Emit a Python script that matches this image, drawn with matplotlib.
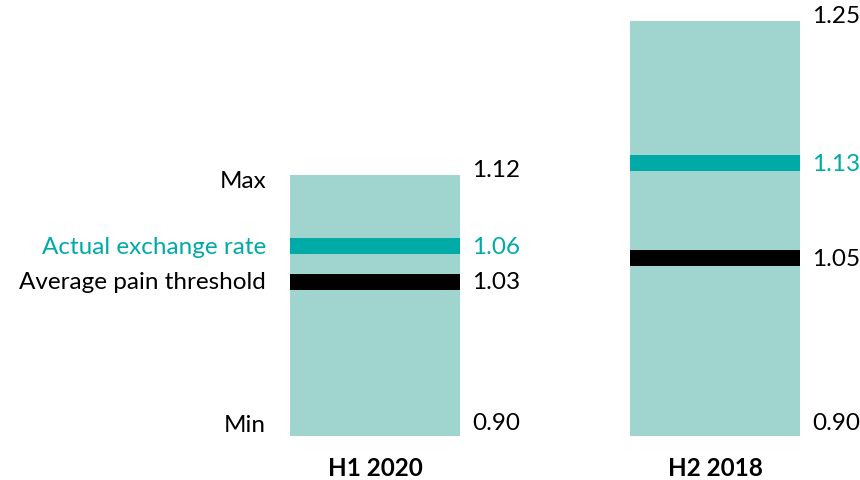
import matplotlib
import matplotlib.pyplot as plt

matplotlib.use("Agg")

BAR_COLOR = "#A0D4CF"
TEAL = "#00AAA6"

periods = ["H1 2020", "H2 2018"]
range_min = [0.90, 0.90]
range_max = [1.12, 1.25]
actual_rate = [1.06, 1.13]
pain_threshold = [1.03, 1.05]

plt.rcParams["font.family"] = ["Lato", "DejaVu Sans"]

fig = plt.figure(figsize=(8.6, 4.81), dpi=100)
# axes span the bars: bottom 0.90 at y=437px, top 1.25 at y=22px
ax = fig.add_axes([0, 44 / 481, 1, 415 / 481])
ax.set_xlim(-375 / 340, 1 + 145 / 340)
ax.set_ylim(0.90, 1.25)
ax.axis("off")

width = 0.5
fs = 17.5


def label(x, y, s, dy=0, **kw):
    ax.annotate(s, (x, y), xytext=(0, dy), textcoords="offset points", fontsize=fs, **kw)


for i, p in enumerate(periods):
    ax.bar(i, range_max[i] - range_min[i], width, bottom=range_min[i], color=BAR_COLOR, zorder=1)
    ax.plot([i - width / 2, i + width / 2], [actual_rate[i]] * 2, color=TEAL, lw=11.5, solid_capstyle="butt", zorder=2)
    ax.plot([i - width / 2, i + width / 2], [pain_threshold[i]] * 2, color="black", lw=11.5, solid_capstyle="butt", zorder=2)

    xr = i + width / 2 + 0.035
    label(xr, range_max[i], f"{range_max[i]:.2f}", dy=4, va="center", ha="left")
    label(xr, actual_rate[i], f"{actual_rate[i]:.2f}", va="center", ha="left", color=TEAL)
    label(xr, pain_threshold[i], f"{pain_threshold[i]:.2f}", va="center", ha="left")
    label(xr, range_min[i], f"{range_min[i]:.2f}", dy=2, va="bottom", ha="left")

    label(i, range_min[i], p, dy=-23, fontweight="bold", ha="center", va="center")

# left-hand legend labels next to the first bar
xl = -width / 2 - 0.07
label(xl, range_max[0], "Max", dy=-4, ha="right", va="center")
label(xl, actual_rate[0], "Actual exchange rate", ha="right", va="center", color=TEAL)
label(xl, pain_threshold[0], "Average pain threshold", ha="right", va="center")
label(xl, range_min[0], "Min", dy=1, ha="right", va="bottom")

fig.savefig("out.png", dpi=100)
